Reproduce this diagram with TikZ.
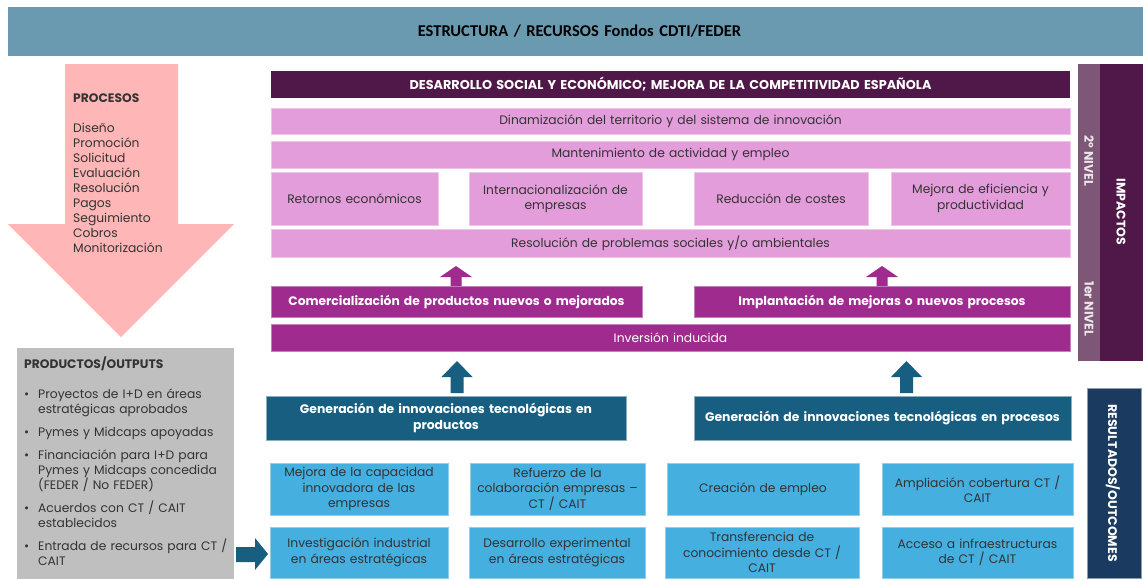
\documentclass[tikz,border=0pt]{standalone}
\usepackage{fontspec}
\setmainfont{Poppins}
\newfontfamily\carl{Carlito}
\definecolor{bannerc}{HTML}{6A9AAF}
\definecolor{pinkc}{HTML}{FFB6B6}
\definecolor{grayc}{HTML}{BFBFBF}
\definecolor{dpur}{HTML}{4F1848}
\definecolor{lpink}{HTML}{E39DDB}
\definecolor{mpur}{HTML}{9F2B8F}
\definecolor{lvl}{HTML}{7E5677}
\definecolor{teal}{HTML}{175E80}
\definecolor{lblue}{HTML}{45AFE0}
\definecolor{navy}{HTML}{1A3B5F}
\definecolor{txt}{HTML}{333333}
\newcommand\bx[7]{%
\pgfmathsetmacro\bw{#4-#2}\pgfmathsetmacro\bh{#5-#3}%
\pgfmathsetmacro\bcx{(#2+#4)/2}\pgfmathsetmacro\bcy{(#3+#5)/2}%
\pgfmathsetmacro\btw{#4-#2-4}%
\node[#6, minimum width=\bw pt, minimum height=\bh pt, text width=\btw pt] (#1) at (\bcx,\bcy) {#7};}
\newcommand\blockup[7]{% colour, cx, ytop, ybase, ybot, headhalf, shafthalf
\fill[#1] (#2,#3) -- (#2+#6,#4) -- (#2+#7,#4) -- (#2+#7,#5) -- (#2-#7,#5) -- (#2-#7,#4) -- (#2-#6,#4) -- cycle;}
\newcommand\itm[1]{\par\hangindent=14pt\hangafter=1\noindent\makebox[14pt][l]{\textbullet}#1\par\vspace{8pt}}
\newcommand\brk{\hfil\break}
\begin{document}
\begin{tikzpicture}[x=1pt,y=-1pt,
  basebox/.style={inner sep=0pt, align=center, font=\fontsize{12.3}{15.5}\selectfont},
  bannerbox/.style={basebox, fill=bannerc, text=black, font=\carl\bfseries\fontsize{16.5}{18}\selectfont},
  dpbox/.style={basebox, fill=dpur, text=white, font=\bfseries\fontsize{12.8}{15}\selectfont},
  lpbox/.style={basebox, fill=lpink, text=txt, draw=lpink!60!white, line width=0.6pt},
  mpbox/.style={basebox, fill=mpur, text=white, draw=mpur!60!white, line width=0.6pt},
  tbox/.style={basebox, fill=teal, text=white, draw=teal!50!white, line width=0.6pt, font=\bfseries\fontsize{12.4}{16}\selectfont},
  bbox/.style={basebox, fill=lblue, text=txt, draw=lblue!60!white, line width=0.6pt},
  plainbox/.style={inner sep=0pt},
  vtext/.style={rotate=-90, text=white, font=\bfseries\fontsize{12.5}{14}\selectfont, inner sep=0pt}
]
\useasboundingbox[fill=white] (0,0) rectangle (1143,579);
% banner
\bx{top}{8}{7}{1143}{56}{bannerbox}{\hspace*{8pt}ESTRUCTURA / RECURSOS Fondos CDTI/FEDER}
% pink process arrow
\fill[pinkc] (65,64) -- (178,64) -- (178,224) -- (234,224) -- (121,337) -- (8,224) -- (65,224) -- cycle;
\node[anchor=north west, inner sep=0pt, align=left, text=txt, font=\fontsize{12.3}{15}\selectfont] (proc) at (73,94) {%
\textbf{PROCESOS}\\[15pt]
Diseño\\Promoción\\Solicitud\\Evaluación\\Resolución\\Pagos\\Seguimiento\\Cobros\\Monitorización};
% gray outputs box
\bx{gray}{17}{348}{234}{579}{plainbox, fill=grayc}{}
\node[anchor=north west, inner sep=0pt, text width=208pt, text=txt, font=\fontsize{12.3}{15}\selectfont] (outs) at (24,356.5) {%
\textbf{PRODUCTOS/OUTPUTS}\par\vspace{15.5pt}
\itm{Proyectos de I+D en áreas\brk estratégicas aprobados}
\itm{Pymes y Midcaps apoyadas}
\itm{Financiación para I+D para\brk Pymes y Midcaps concedida\brk (FEDER / No FEDER)}
\itm{Acuerdos con CT / CAIT\brk establecidos}
\itm{Entrada de recursos para CT /\brk CAIT}};
% impacts
\bx{dso}{271}{71}{1070}{98}{dpbox}{DESARROLLO SOCIAL Y ECONÓMICO; MEJORA DE LA COMPETITIVIDAD ESPAÑOLA}
\bx{din}{271}{108}{1070}{134}{lpbox}{Dinamización del territorio y del sistema de innovación}
\bx{man}{271}{141}{1070}{168}{lpbox}{Mantenimiento de actividad y empleo}
\bx{ret}{271}{172}{438}{225}{lpbox}{Retornos económicos}
\bx{int}{469}{172}{642}{225}{lpbox}{Internacionalización de\\empresas}
\bx{red}{694}{172}{868}{225}{lpbox}{Reducción de costes}
\bx{mej}{891}{172}{1070}{225}{lpbox}{Mejora de eficiencia y\\productividad}
\bx{res}{271}{229}{1070}{257}{lpbox}{Resolución de problemas sociales y/o ambientales}
\bx{com}{271}{286}{642}{317}{mpbox}{\bfseries Comercialización de productos nuevos o mejorados}
\bx{imp}{694}{286}{1070}{317}{mpbox}{\bfseries Implantación de mejoras o nuevos procesos}
\bx{inv}{271}{324}{1070}{351}{mpbox}{Inversión inducida}
% purple up arrows
\blockup{mpur}{456}{266}{277}{286}{16}{5.5}
\blockup{mpur}{882}{266}{277}{286}{16}{5.5}
% teal up arrows
\blockup{teal}{457}{361}{377}{393}{15.5}{6.5}
\blockup{teal}{906.5}{361}{377}{393}{15.5}{6.5}
% outcomes
\bx{gp}{266}{396}{626}{440}{tbox}{Generación de innovaciones tecnológicas en\\productos}
\bx{gr}{694}{396}{1071}{440}{tbox}{Generación de innovaciones tecnológicas en procesos}
\bx{b1}{270}{463}{448}{515}{bbox}{Mejora de la capacidad\\innovadora de las\\empresas}
\bx{b2}{470}{463}{645}{515}{bbox}{Refuerzo de la\\colaboración empresas –\\CT / CAIT}
\bx{b3}{667}{463}{859}{515}{bbox}{Creación de empleo}
\bx{b4}{882}{463}{1073}{515}{bbox}{Ampliación cobertura CT /\\CAIT}
\bx{b5}{270}{527}{448}{578}{bbox}{Investigación industrial\\en áreas estratégicas}
\bx{b6}{469}{527}{645}{578}{bbox}{Desarrollo experimental\\en áreas estratégicas}
\bx{b7}{665}{527}{859}{578}{bbox}{Transferencia de\\conocimiento desde CT /\\CAIT}
\bx{b8}{882}{527}{1073}{578}{bbox}{Acceso a infraestructuras\\de CT / CAIT}
% right arrow into outcomes
\fill[teal] (236,547) -- (255,547) -- (255,538) -- (268,554) -- (255,570) -- (255,562) -- (236,562) -- cycle;
% side bars
\bx{lvlbar}{1078}{64}{1100}{361}{plainbox, fill=lvl}{}
\bx{impbar}{1100}{64}{1143}{361}{plainbox, fill=dpur}{}
\node[vtext, text=white!85!lvl] (n2) at (1089,161) {2º NIVEL};
\node[vtext, text=white!85!lvl] (n1) at (1089,309) {1er NIVEL};
\node[vtext] (impt) at (1121,212) {IMPACTOS};
\bx{outbar}{1087}{388}{1141}{578}{plainbox, fill=navy, draw=navy!50!white, line width=0.6pt}{}
\node[vtext] (outt) at (1113,483) {RESULTADOS/OUTCOMES};
\end{tikzpicture}
\end{document}
